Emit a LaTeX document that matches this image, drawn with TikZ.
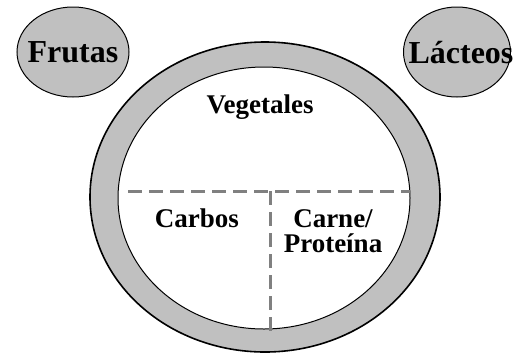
\documentclass[tikz,border=0pt]{standalone}
\usepackage{fontspec}
\setmainfont{Liberation Serif}
\usetikzlibrary{shapes.geometric}
\definecolor{platogris}{HTML}{C0C0C0}
\definecolor{lineagris}{HTML}{808080}
\begin{document}
\begin{tikzpicture}
      [x=1pt,y=-1pt,
      bubble/.style={ellipse,draw,line width=1pt,fill=platogris,inner sep=0pt},
      big/.style={font=\fontsize{32}{32}\selectfont\bfseries},
      label/.style={font=\fontsize{27}{25}\selectfont\bfseries,align=center},
      divide/.style={draw=lineagris,line width=3pt,dash pattern=on 14pt off 7pt}]
      \useasboundingbox (0,0) rectangle (527,354);
      \node[bubble,minimum width=112pt,minimum height=90pt] (frutas) at (73,52) {};
      \node[big] at (frutas) {Frutas};
      \node[bubble,minimum width=107pt,minimum height=90pt] (lacteos) at (457,52) {};
      \node[big] at (461,53) {Lácteos};
      \node[bubble,line width=1.6pt,minimum width=350pt,minimum height=310pt] (plato) at (265,197) {};
      \node[bubble,fill=white,minimum width=292pt,minimum height=262pt] (centro) at (264,198) {};
      \coordinate (izq) at (128,191);
      \coordinate (der) at (410,191);
      \coordinate (arriba) at (270,191);
      \coordinate (abajo) at (270,332);
      \draw[divide] (izq) -- (der);
      \draw[divide] (arriba) -- (abajo);
      \node[label] (vegetales) at (260,107) {Vegetales};
      \node[label] (carbos) at (197,218) {Carbos};
      \node[label] (carne) at (333,231) {Carne/\\Proteína};
    \end{tikzpicture}
\end{document}
